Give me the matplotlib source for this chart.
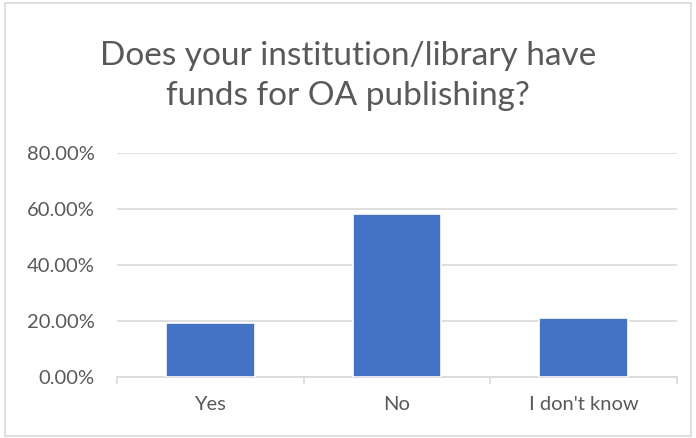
import matplotlib

matplotlib.use("Agg")
import matplotlib.pyplot as plt
from matplotlib.patches import Rectangle
from matplotlib.ticker import FuncFormatter, FixedLocator

categories = ["Yes", "No", "I don't know"]
shares = [0.1935, 0.5806, 0.2097]
y_ticks = [0.0, 0.2, 0.4, 0.6, 0.8]
title = "Does your institution/library have\nfunds for OA publishing?"

BAR = "#4472C4"
GRID = "#D9D9D9"
TEXT = "#595959"

plt.rcParams["font.family"] = ["Lato", "DejaVu Sans"]

fig = plt.figure(figsize=(6.96, 4.38), dpi=100)
ax = fig.add_axes([117 / 696, 1 - 377 / 438, 560 / 696, 224 / 438])

x = range(len(categories))
ax.bar(x, shares, width=0.476, color=BAR, edgecolor="white", linewidth=1.2,
       zorder=3)

ax.set_xlim(-0.5, len(categories) - 0.5)
ax.set_ylim(0, 0.8)
ax.yaxis.set_major_locator(FixedLocator(y_ticks))
ax.yaxis.set_major_formatter(FuncFormatter(lambda v, _: f"{v * 100:.2f}%"))
ax.grid(axis="y", color=GRID, linewidth=1.2, zorder=0)
ax.tick_params(axis="y", length=0, pad=16, labelsize=14.5, labelcolor=TEXT)

ax.set_xticks(list(x))
ax.set_xticklabels(categories)
ax.tick_params(axis="x", length=0, pad=14, labelsize=14.5, labelcolor=TEXT)
# category separators below the axis line
ax.set_xticks([i - 0.5 for i in range(len(categories) + 1)], minor=True)
ax.tick_params(axis="x", which="minor", length=5, width=1.2, color=GRID)

for side in ("top", "right", "left"):
    ax.spines[side].set_visible(False)
ax.spines["bottom"].set_color(GRID)
ax.spines["bottom"].set_linewidth(1.2)

fig.text(0.5, 1 - 76 / 438, title, ha="center", va="center", fontsize=24,
         color=TEXT, linespacing=1.45)

# thin chart-area frame
fig.patches.append(Rectangle((5 / 696, 2 / 438), 686 / 696, 433 / 438,
                             transform=fig.transFigure, fill=False,
                             edgecolor=GRID, linewidth=1.2))

fig.savefig("out.png", dpi=100)
